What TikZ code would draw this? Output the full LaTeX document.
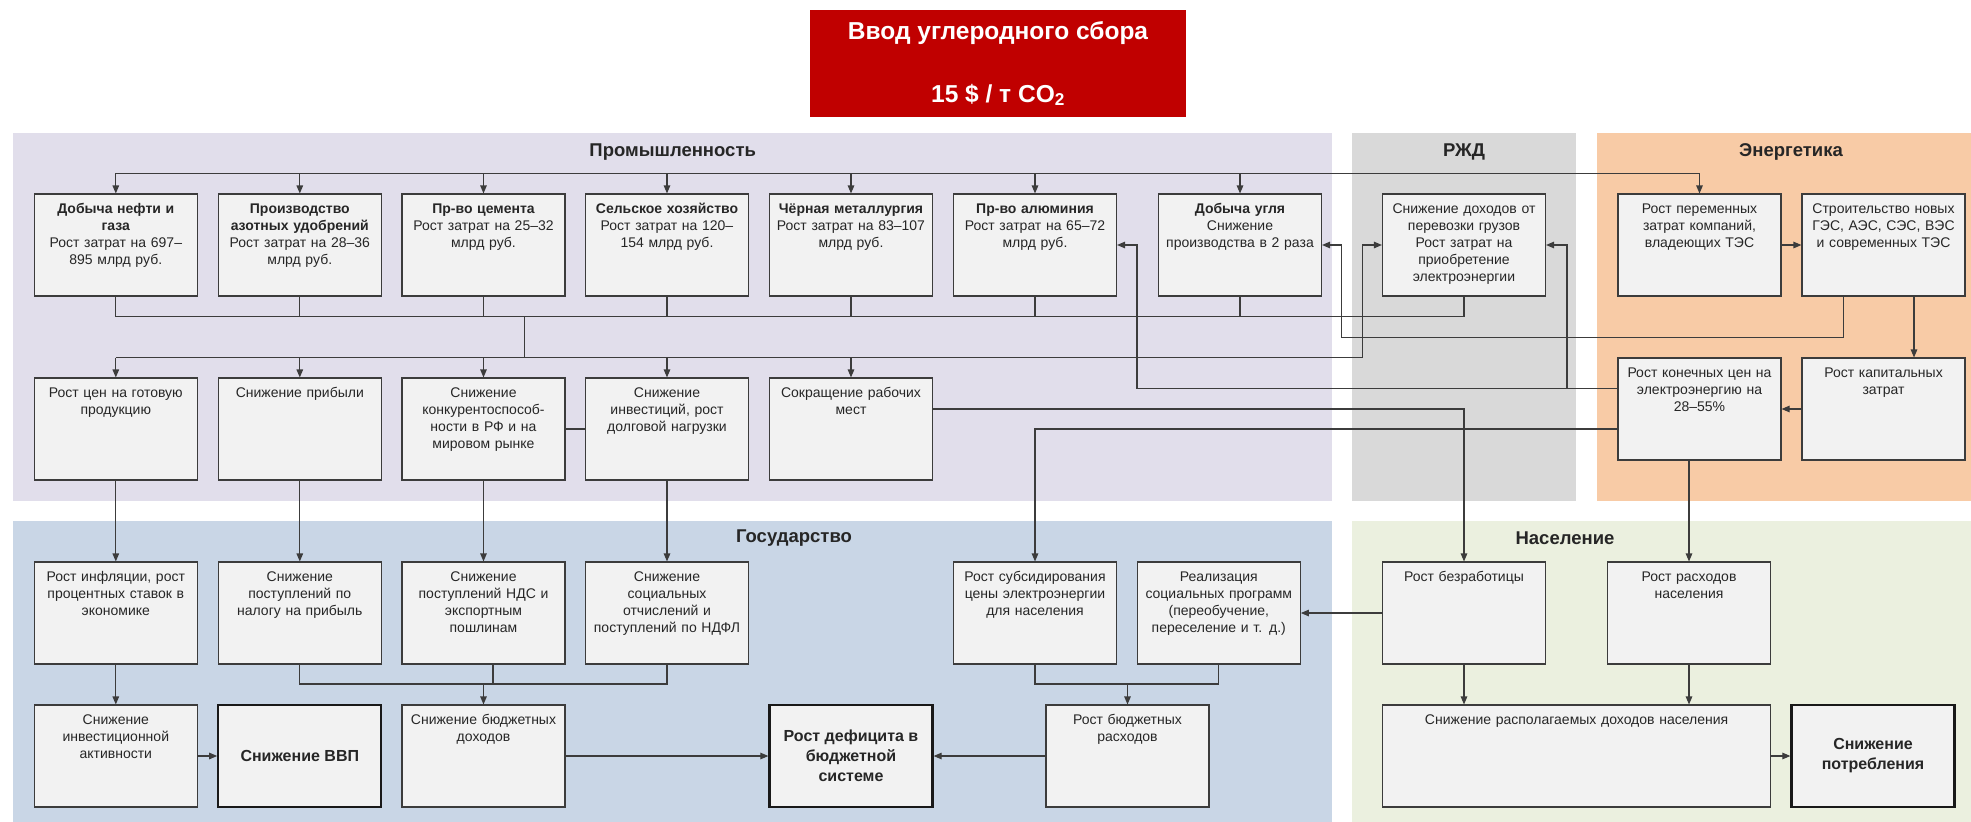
\documentclass[tikz,border=0pt]{standalone}
\usepackage{fontspec}
\setmainfont{Liberation Sans}
\usetikzlibrary{arrows.meta}

\definecolor{indbg}{HTML}{E1DEEB}
\definecolor{rzdbg}{HTML}{D9D9D9}
\definecolor{enbg}{HTML}{F8CBA6}
\definecolor{govbg}{HTML}{C9D6E6}
\definecolor{popbg}{HTML}{EBF0DF}
\definecolor{boxbg}{HTML}{F2F2F2}
\definecolor{taxred}{HTML}{C00000}
\definecolor{lnc}{HTML}{3C3C3C}

\begin{document}
\begin{tikzpicture}[x=1pt,y=-1pt,line width=1.1pt]
\tikzstyle{every node}=[font=\fontsize{14}{17}\selectfont,text=black!85]
\tikzstyle{box}=[draw=lnc,fill=boxbg,align=center,text width=158pt,inner xsep=2.5pt,inner ysep=5pt,text height=14pt,text depth=78pt]
\tikzstyle{keybox}=[draw=black!90,fill=boxbg,line width=2.2pt,align=center,minimum width=163pt,minimum height=102pt,font=\fontsize{16}{20}\selectfont\bfseries]
\tikzstyle{ttl}=[font=\fontsize{18.5}{22}\selectfont\bfseries]
\tikzstyle{ln}=[draw=lnc]
\tikzstyle{arr}=[ln,-{Triangle[length=8pt,width=6.5pt]}]

\useasboundingbox (0,0) rectangle (1971,822);

% panels
\fill[indbg] (13.4,133) rectangle (1332,500.7);
\fill[rzdbg] (1352,133) rectangle (1576,500.7);
\fill[enbg] (1597,133) rectangle (1971,500.7);
\fill[govbg] (13.4,521) rectangle (1332,822);
\fill[popbg] (1352,521) rectangle (1971,822);

\node[fill=taxred,text=white,minimum width=376pt,minimum height=107pt,align=center,
  font=\fontsize{24.5}{63}\selectfont\bfseries] (tax) at (998,63.5)
  {Ввод углеродного сбора\\15 \$ / т CO\textsubscript{2}};

\node[ttl] (t_ind) at (672.7,151.7) {Промышленность};
\node[ttl] (t_rzd) at (1464,151.7) {РЖД};
\node[ttl] (t_en) at (1791,151.7) {Энергетика};
\node[ttl] (t_gov) at (794,538) {Государство};
\node[ttl] (t_pop) at (1565,538) {Население};

\path (0,245) coordinate (row_a);
\path (0,429) coordinate (row_b);
\path (0,409) coordinate (row_e);
\path (0,613) coordinate (row_c);
\path (0,756) coordinate (row_d);

% top row
\path (row_a) +(115.8,0) node[box] (in_1) {{\bfseries Добыча нефти и\\газа}\\Рост затрат на 697–\\895 млрд руб.};
\path (row_a) +(299.8,0) node[box] (in_2) {{\bfseries Производство\\азотных удобрений}\\Рост затрат на 28–36\\млрд руб.};
\path (row_a) +(483.5,0) node[box] (in_3) {{\bfseries Пр-во цемента}\\Рост затрат на 25–32\\млрд руб.};
\path (row_a) +(667,0) node[box] (in_4) {{\bfseries Сельское хозяйство}\\Рост затрат на 120–\\154 млрд руб.};
\path (row_a) +(851,0) node[box] (in_5) {{\bfseries Чёрная металлургия}\\Рост затрат на 83–107\\млрд руб.};
\path (row_a) +(1035,0) node[box] (in_6) {{\bfseries Пр-во алюминия}\\Рост затрат на 65–72\\млрд руб.};
\path (row_a) +(1240,0) node[box] (in_7) {{\bfseries Добыча угля}\\Снижение\\производства в 2 раза};
\path (row_a) +(1464,0) node[box] (rz_1) {Снижение доходов от\\перевозки грузов\\Рост затрат на\\приобретение\\электроэнергии};
\path (row_a) +(1699.5,0) node[box] (en_1) {Рост переменных\\затрат компаний,\\владеющих ТЭС};
\path (row_a) +(1883.5,0) node[box] (en_2) {Строительство новых\\ГЭС, АЭС, СЭС, ВЭС\\и современных ТЭС};

% second row
\path (row_b) +(115.8,0) node[box] (pr_1) {Рост цен на готовую\\продукцию};
\path (row_b) +(299.8,0) node[box] (pr_2) {Снижение прибыли};
\path (row_b) +(483.5,0) node[box] (pr_3) {Снижение\\конкурентоспособ-\\ности в РФ и на\\мировом рынке};
\path (row_b) +(667,0) node[box] (pr_4) {Снижение\\инвестиций, рост\\долговой нагрузки};
\path (row_b) +(851,0) node[box] (pr_5) {Сокращение рабочих\\мест};
\path (row_e) +(1699.5,0) node[box] (en_3) {Рост конечных цен на\\электроэнергию на\\28–55\%};
\path (row_e) +(1883.5,0) node[box] (en_4) {Рост капитальных\\затрат};

% state and population
\path (row_c) +(115.8,0) node[box] (gv_1) {Рост инфляции, рост\\процентных ставок в\\экономике};
\path (row_c) +(299.8,0) node[box] (gv_2) {Снижение\\поступлений по\\налогу на прибыль};
\path (row_c) +(483.5,0) node[box] (gv_3) {Снижение\\поступлений НДС и\\экспортным\\пошлинам};
\path (row_c) +(667,0) node[box] (gv_4) {Снижение\\социальных\\отчислений и\\поступлений по НДФЛ};
\path (row_c) +(1035,0) node[box] (gv_5) {Рост субсидирования\\цены электроэнергии\\для населения};
\path (row_c) +(1218.8,0) node[box] (gv_6) {Реализация\\социальных программ\\(переобучение,\\переселение и т. д.)};
\path (row_c) +(1464,0) node[box] (pp_1) {Рост безработицы};
\path (row_c) +(1689,0) node[box] (pp_2) {Рост расходов\\населения};

\path (row_d) +(115.8,0) node[box] (gv_7) {Снижение\\инвестиционной\\активности};
\path (row_d) +(299.8,0) node[keybox] (gv_8) {Снижение ВВП};
\path (row_d) +(483.5,0) node[box] (gv_9) {Снижение бюджетных\\доходов};
\path (row_d) +(851,0) node[keybox] (gv_10) {Рост дефицита в\\бюджетной\\системе};
\path (row_d) +(1127.5,0) node[box] (gv_11) {Рост бюджетных\\расходов};
\path (row_d) +(1576.6,0) node[box,text width=383pt] (pp_3) {Снижение располагаемых доходов населения};
\path (row_d) +(1873,0) node[keybox] (pp_4) {Снижение\\потребления};

\path (0,173.3) coordinate (topbus);
\path (0,316.7) coordinate (collbus);
\path (0,357.7) coordinate (distbus);
\path (0,684) coordinate (gbus);
\path (524.6,316.7) coordinate (trunk);
\path (1362.7,357.7) coordinate (rzd_turn);
\path (1341.7,337.3) coordinate (coal_turn);
\path (1137,388.3) coordinate (alu_turn);
\path (1567,388.3) coordinate (rzd_back);

\draw[ln] (in_1.north |- topbus) -- (en_1.north |- topbus);
\foreach \n in {in_1,in_2,in_3,in_4,in_5,in_6,in_7,en_1}{
    \draw[arr] (\n.north |- topbus) -- (\n.north);
}

\foreach \n in {in_1,in_2,in_3,in_4,in_5,in_6,in_7,rz_1}{
    \draw[ln] (\n.south) -- (\n.south |- collbus);
}
\draw[ln] (in_1.south |- collbus) -- (rz_1.south |- collbus);
\draw[ln] (trunk) -- (trunk |- distbus);

\draw[arr] (pr_1.north |- distbus) -- (rzd_turn) |- (rz_1.west);
\foreach \n in {pr_1,pr_2,pr_3,pr_4,pr_5}{
    \draw[arr] (\n.north |- distbus) -- (\n.north);
}
\draw[ln] (pr_3.east) -- (pr_4.west);

\draw[arr] (en_1) -- (en_2);
\draw[arr] ([xshift=30.5pt]en_2.south) -- ([xshift=30.5pt]en_2.south |- en_4.north);
\draw[arr] ([xshift=-40pt]en_2.south) |- (coal_turn) |- (in_7.east);
\draw[arr] (en_4) -- (en_3);
\draw[arr] ([yshift=20.7pt]en_3.west) -- (alu_turn) |- (in_6.east);
\draw[arr] (rzd_back) |- (rz_1.east);
\draw[arr] ([yshift=-20pt]en_3.west) -| (gv_5.north);
\draw[arr] (en_3.south -| pp_2.north) -- (pp_2.north);
\draw[arr] ([yshift=20pt]pr_5.east) -| (pp_1.north);

\foreach \a/\b in {pr_1/gv_1,pr_2/gv_2,pr_3/gv_3,pr_4/gv_4,gv_1/gv_7}{
    \draw[arr] (\a) -- (\b);
}
\draw[ln] (gv_2.south) |- (gv_4.south |- gbus) -- (gv_4.south);
\draw[ln] ([xshift=9.5pt]gv_3.south) -- ([xshift=9.5pt]gv_3.south |- gbus);
\draw[arr] (gv_9.north |- gbus) -- (gv_9.north);
\draw[ln] (gv_5.south) |- (gv_6.south |- gbus) -- (gv_6.south);
\draw[arr] (gv_11.north |- gbus) -- (gv_11.north);
\draw[arr] (gv_7) -- (gv_8);
\draw[arr] (gv_9) -- (gv_10);
\draw[arr] (gv_11) -- (gv_10);
\draw[arr] (pp_1) -- (gv_6);
\draw[arr] (pp_1.south) -- (pp_1.south |- pp_3.north);
\draw[arr] (pp_2.south) -- (pp_2.south |- pp_3.north);
\draw[arr] (pp_3) -- (pp_4);
\end{tikzpicture}
\end{document}
